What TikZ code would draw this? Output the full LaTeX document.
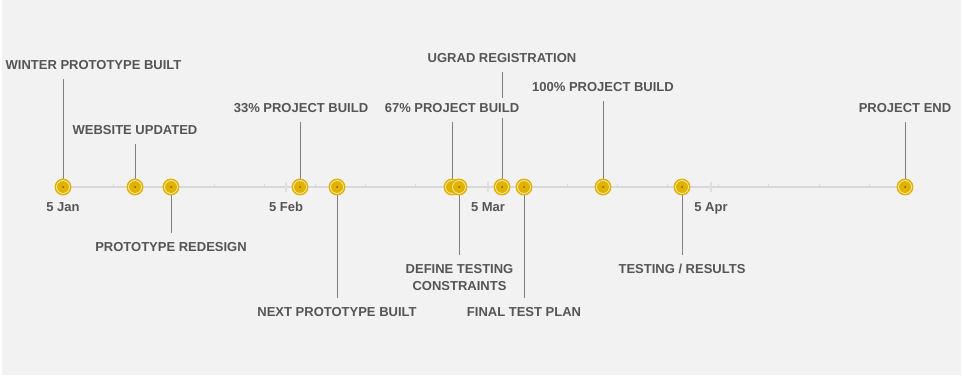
\documentclass[tikz,border=0pt]{standalone}
\usepackage{fontspec}
\setmainfont{Liberation Sans}
\definecolor{bg}{HTML}{F2F2F2}
\definecolor{txt}{HTML}{555555}
\definecolor{gold}{HTML}{E2B200}
\definecolor{ringfill}{HTML}{FAF0CF}
\definecolor{dotc}{HTML}{7A6300}
\definecolor{axisc}{HTML}{D9D9D9}
\definecolor{leadc}{HTML}{7F7F7F}
\pgfdeclarelayer{backdrop}
\pgfdeclarelayer{leaders}
\pgfsetlayers{backdrop,leaders,main}
\begin{document}
\begin{tikzpicture}[x=1pt,y=-1pt,
  lbl/.style={font=\bfseries\fontsize{13}{17}\selectfont, text=txt, fill=bg,
    inner xsep=2pt, inner ysep=5.5pt, text height=9.4pt, text depth=0pt},
  datelbl/.style={font=\bfseries\fontsize{13}{17}\selectfont, text=txt,
    inner sep=0pt, text height=9.4pt, text depth=0pt},
  milestone/.style={circle, inner sep=0pt, minimum size=15.4pt,
    draw=gold, line width=1.5pt, fill=ringfill,
    path picture={
      \fill[gold] (path picture bounding box.center) circle (6pt);
      \fill[dotc] (path picture bounding box.center) circle (1pt);}},
  leader/.style={draw=leadc, line width=0.9pt, shorten >=3.5pt},
  weektick/.style={draw=axisc, line width=1pt},
  monthtick/.style={draw=axisc!85!white, line width=1.6pt}]

\useasboundingbox (0,0) rectangle (963,377);
\begin{pgfonlayer}{backdrop}
  \fill[white] (0,0) rectangle (963,377);
  \fill[bg] (2,0) rectangle (961,375);
\end{pgfonlayer}

% milestones on the time axis
\node[milestone] (m1)  at (63,187)  {};
\node[milestone] (m2)  at (135,187) {};
\node[milestone] (m3)  at (171,187) {};
\node[milestone] (m4)  at (300,187) {};
\node[milestone] (m5)  at (337,187) {};
\node[milestone] (m6)  at (452,187) {};
\node[milestone] (m7)  at (459,187) {};
\node[milestone] (m8)  at (502,187) {};
\node[milestone] (m9)  at (524,187) {};
\node[milestone] (m10) at (603,187) {};
\node[milestone] (m11) at (682,187) {};
\node[milestone] (m12) at (905,187) {};

% event labels
\node[lbl] (t1)  at (93.5,65)  {WINTER PROTOTYPE BUILT};
\node[lbl] (t2)  at (135,130)  {WEBSITE UPDATED};
\node[lbl] (t3)  at (171,247)  {PROTOTYPE REDESIGN};
\node[lbl] (t4)  at (301,108)  {33\% PROJECT BUILD};
\node[lbl] (t5)  at (337,312)  {NEXT PROTOTYPE BUILT};
\node[lbl] (t6)  at (452,108)  {67\% PROJECT BUILD};
\node[lbl, align=center, text height={}, text depth={}, anchor=north]
           (t7)  at (459.5,258.5) {DEFINE TESTING\\CONSTRAINTS};
\node[lbl] (t8)  at (502,58)   {UGRAD REGISTRATION};
\node[lbl] (t9)  at (524,312)  {FINAL TEST PLAN};
\node[lbl] (t10) at (603,87)   {100\% PROJECT BUILD};
\node[lbl] (t11) at (682,269)  {TESTING / RESULTS};
\node[lbl] (t12) at (905,108)  {PROJECT END};

% month labels
\node[datelbl] (d1) at (63,206.5)  {5 Jan};
\node[datelbl] (d2) at (286,206.5) {5 Feb};
\node[datelbl] (d3) at (488,206.5) {5 Mar};
\node[datelbl] (d4) at (711,206.5) {5 Apr};

\begin{pgfonlayer}{leaders}
  % axis with weekly and monthly ticks
  \draw[draw=axisc, line width=1.3pt] (m1.center) -- (m12.center);
  \foreach \k in {1,...,16}
    \draw[weektick] ({63+50.4*\k},183.5) -- ({63+50.4*\k},187);
  \foreach \mx in {286,488,711}
    \draw[monthtick] (\mx,182) -- (\mx,192);
  % leader lines from milestones to their labels
  \draw[leader] (m1.center)  -- (m1.center  |- t1.south);
  \draw[leader] (m2.center)  -- (m2.center  |- t2.south);
  \draw[leader] (m3.center)  -- (m3.center  |- t3.north);
  \draw[leader] (m4.center)  -- (m4.center  |- t4.south);
  \draw[leader] (m5.center)  -- (m5.center  |- t5.north);
  \draw[leader] (m6.center)  -- (m6.center  |- t6.south);
  \draw[leader] (m7.center)  -- (m7.center  |- t7.north);
  \draw[leader] (m8.center)  -- (m8.center  |- t8.south);
  \draw[leader] (m9.center)  -- (m9.center  |- t9.north);
  \draw[leader] (m10.center) -- (m10.center |- t10.south);
  \draw[leader] (m11.center) -- (m11.center |- t11.north);
  \draw[leader] (m12.center) -- (m12.center |- t12.south);
\end{pgfonlayer}
\end{tikzpicture}
\end{document}
